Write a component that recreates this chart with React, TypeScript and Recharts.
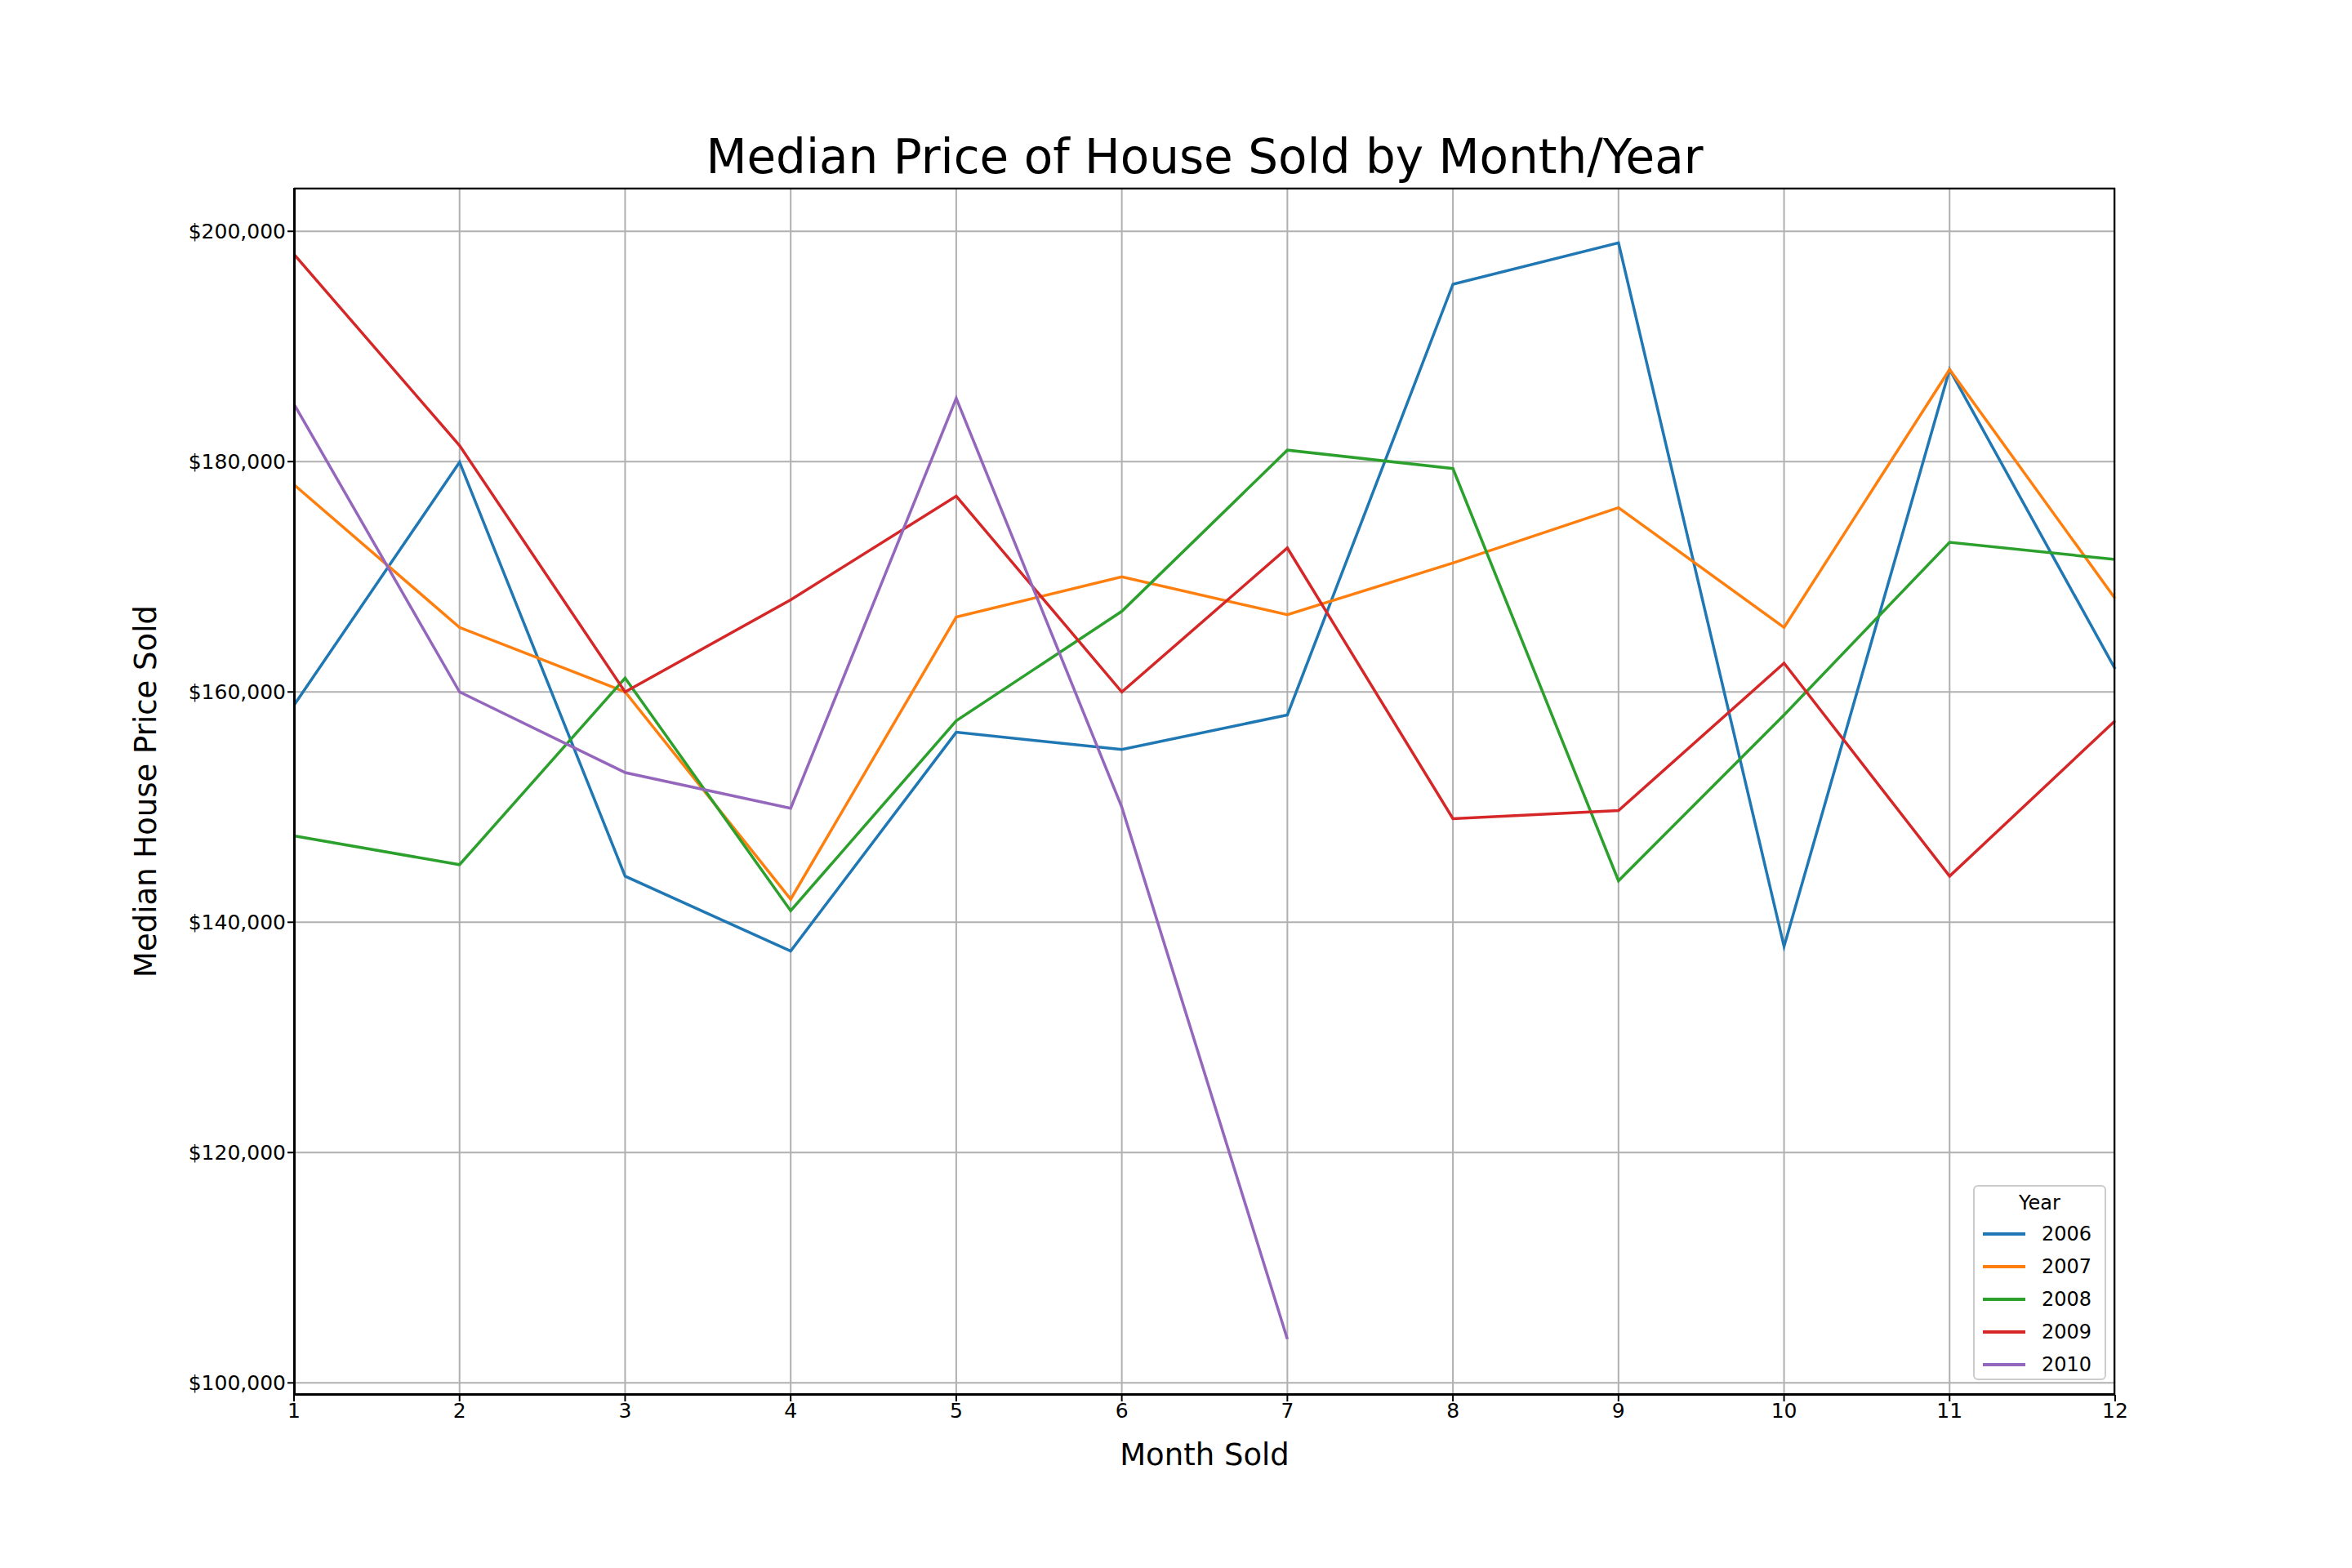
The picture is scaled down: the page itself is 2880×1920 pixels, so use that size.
import { LineChart, Line, XAxis, YAxis, CartesianGrid, Label } from 'recharts';

const months = [1, 2, 3, 4, 5, 6, 7, 8, 9, 10, 11, 12];
const y2006 = [158850, 179950, 144000, 137500, 156500, 155000, 158000, 195400, 199000, 137900, 188000, 162000];
const y2007 = [178000, 165600, 160000, 142000, 166500, 170000, 166700, 171200, 176000, 165600, 188000, 168100];
const y2008 = [147500, 145000, 161200, 141000, 157500, 167000, 181000, 179400, 143600, 158000, 173000, 171500];
const y2009 = [198000, 181400, 160000, 168000, 177000, 160000, 172500, 149000, 149700, 162500, 144000, 157500];
const y2010 = [185000, 160000, 153000, 149900, 185500, 150000, 103800];
const yTicks = [100000, 120000, 140000, 160000, 180000, 200000];

const series = [
  { key: '2006', values: y2006, color: '#1f77b4' },
  { key: '2007', values: y2007, color: '#ff7f0e' },
  { key: '2008', values: y2008, color: '#2ca02c' },
  { key: '2009', values: y2009, color: '#d62728' },
  { key: '2010', values: y2010, color: '#9467bd' },
];

const data = months.map((m, i) => {
  const row: any = { month: m };
  series.forEach((s) => {
    if (i < s.values.length) row[s.key] = s.values[i];
  });
  return row;
});

const font = 'DejaVu Sans, sans-serif';
const fmt = (v: number) => '$' + v.toLocaleString('en-US');

export default function App() {
  return (
    <div style={{ position: 'absolute', left: 0, top: 0, width: 2880, height: 1920, background: '#fff', fontFamily: font }}>
      <div style={{ position: 'absolute', top: 158, width: 2950, left: 0, textAlign: 'center', fontSize: 58 }}>
        Median Price of House Sold by Month/Year
      </div>
      <LineChart width={2880} height={1920} data={data} margin={{ top: 230, right: 290, left: 200, bottom: 152 }}>
        <CartesianGrid stroke="#b0b0b0" strokeWidth={2} />
        <XAxis
          dataKey="month"
          type="number"
          domain={[1, 12]}
          ticks={months}
          height={60}
          stroke="#000"
          strokeWidth={2}
          tickSize={8}
          tick={{ fontSize: 25, fill: '#000', fontFamily: font }}
        >
          <Label value="Month Sold" position="insideBottom" offset={-26} style={{ fontSize: 37, fill: '#000', fontFamily: font }} />
        </XAxis>
        <YAxis
          type="number"
          domain={[98958, 203776]}
          ticks={yTicks}
          width={160}
          stroke="#000"
          strokeWidth={2}
          tickSize={8}
          tickFormatter={fmt}
          tick={{ fontSize: 25, fill: '#000', fontFamily: font }}
        >
          <Label value="Median House Price Sold" angle={-90} position="insideLeft" offset={-22} style={{ fontSize: 37, fill: '#000', fontFamily: font, textAnchor: 'middle' }} />
        </YAxis>
        {series.map((s) => (
          <Line key={s.key} dataKey={s.key} stroke={s.color} strokeWidth={3.5} dot={false} type="linear" isAnimationActive={false} />
        ))}
      </LineChart>
      <div style={{ position: 'absolute', left: 360, top: 230, width: 2230, height: 1478, border: '2px solid #000', boxSizing: 'border-box', pointerEvents: 'none' }} />
      <div style={{ position: 'absolute', left: 2416, top: 1451, width: 163, height: 239, border: '2px solid #ccc', borderRadius: 6, background: 'rgba(255,255,255,0.8)', boxSizing: 'border-box', fontSize: 24 }}>
        <div style={{ textAlign: 'center', marginTop: 6, marginBottom: 4 }}>Year</div>
        {series.map((s) => (
          <div key={s.key} style={{ display: 'flex', alignItems: 'center', height: 40, paddingLeft: 10 }}>
            <div style={{ width: 52, height: 3.5, background: s.color, marginRight: 20 }} />
            <span>{s.key}</span>
          </div>
        ))}
      </div>
    </div>
  );
}
